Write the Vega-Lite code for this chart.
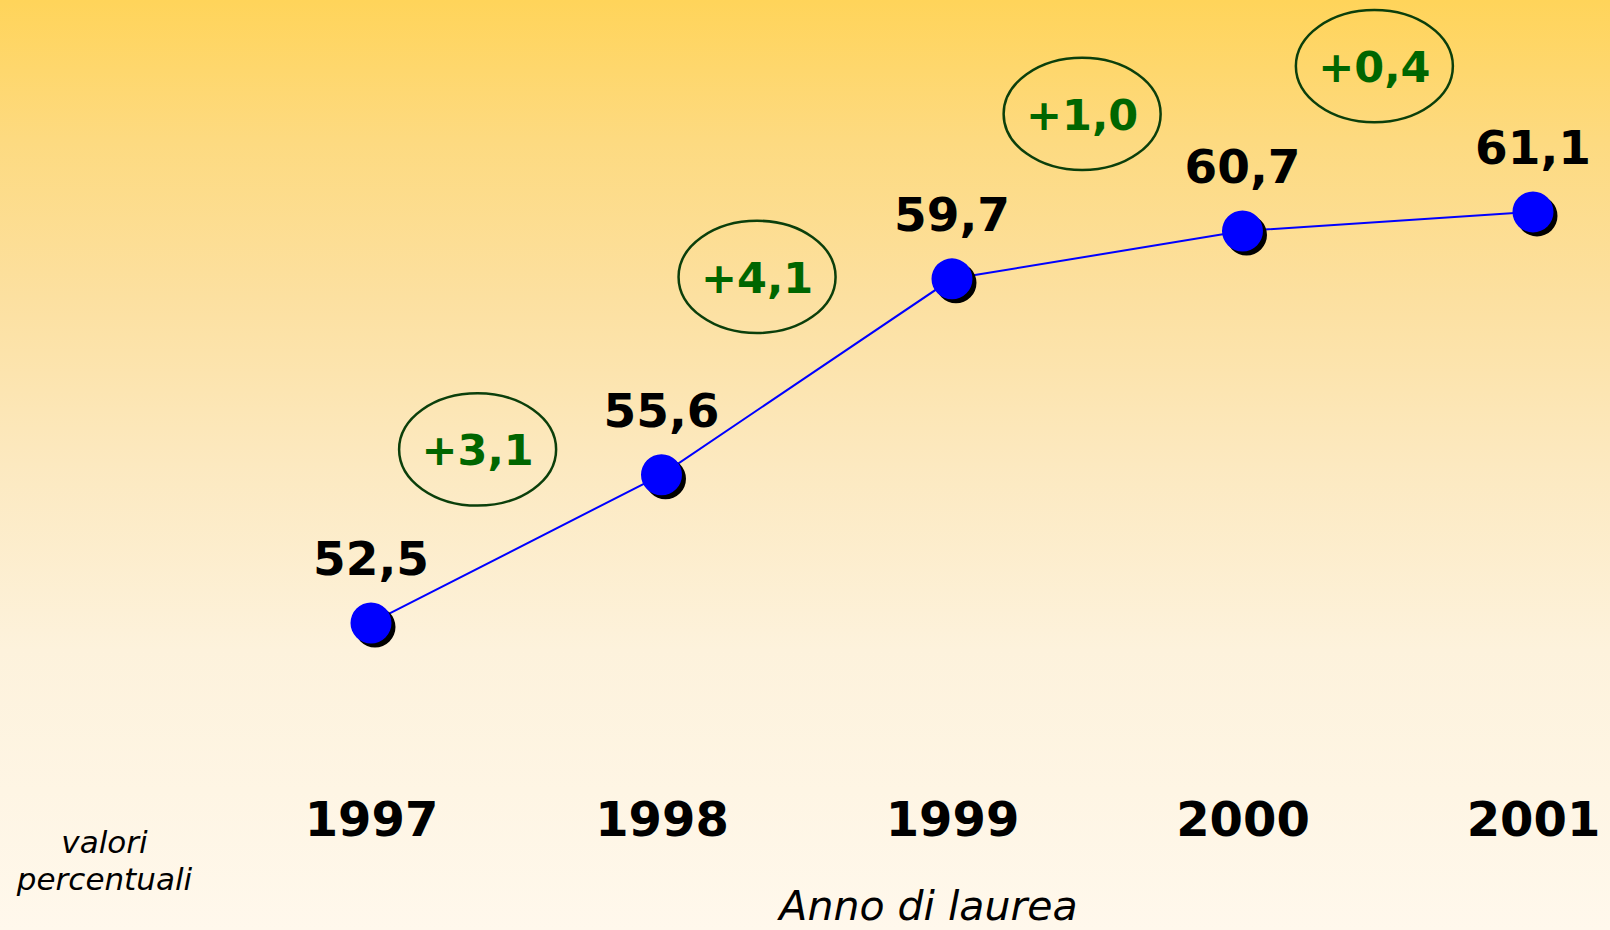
{
  "$schema": "https://vega.github.io/schema/vega-lite/v6.json",
  "width": 1610,
  "height": 930,
  "padding": 0,
  "autosize": {"type": "none"},
  "background": "#FFF8EC",
  "config": {
    "view": {"stroke": null},
    "locale": {"number": {"decimal": ",", "thousands": ".", "grouping": [3], "currency": ["€", ""]}}
  },
  "datasets": {
    "serie": [
      {"anno": 1997, "valore": 52.5},
      {"anno": 1998, "valore": 55.6},
      {"anno": 1999, "valore": 59.7},
      {"anno": 2000, "valore": 60.7},
      {"anno": 2001, "valore": 61.1}
    ],
    "variazioni": [
      {"delta": 3.1, "anno_rif": 1997.367, "livello_rif": 56.13},
      {"delta": 4.1, "anno_rif": 1998.329, "livello_rif": 59.74},
      {"delta": 1.0, "anno_rif": 1999.448, "livello_rif": 63.15},
      {"delta": 0.4, "anno_rif": 2000.454, "livello_rif": 64.15}
    ]
  },
  "layer": [
    {
      "data": {"values": [{}]},
      "mark": {
        "type": "rect",
        "color": {
          "gradient": "linear",
          "x1": 0, "y1": 0, "x2": 0, "y2": 1,
          "stops": [
            {"offset": 0, "color": "#FFD45A"},
            {"offset": 0.15, "color": "#FDDA80"},
            {"offset": 0.32, "color": "#FCE0A0"},
            {"offset": 0.5, "color": "#FCE9C0"},
            {"offset": 0.7, "color": "#FDF2DC"},
            {"offset": 1, "color": "#FFF8EC"}
          ]
        }
      },
      "encoding": {}
    },
    {
      "data": {"name": "serie"},
      "mark": {"type": "line", "color": "#0000FF", "strokeWidth": 2},
      "encoding": {
        "x": {
          "field": "anno", "type": "quantitative",
          "scale": {"domain": [1995.7229, 2001.2651], "nice": false, "zero": false},
          "axis": {
            "orient": "bottom", "offset": -140, "zindex": 1, "domain": false, "ticks": false, "tickSize": 0, "grid": false,
            "values": [1997, 1998, 1999, 2000, 2001], "format": "d",
            "labelPadding": 45, "labelBaseline": "alphabetic", "labelFlush": false, "labelOverlap": false,
            "labelFont": "DejaVu Sans", "labelFontSize": 48, "labelFontWeight": "bold", "labelColor": "#000000",
            "title": "Anno di laurea", "titleFont": "DejaVu Sans", "titleFontSize": 41,
            "titleFontStyle": "italic", "titleFontWeight": "normal", "titleColor": "#000000",
            "titleX": 928, "titleY": 129, "titleAlign": "center", "titleBaseline": "alphabetic", "titleAnchor": null
          }
        },
        "y": {
          "field": "valore", "type": "quantitative",
          "scale": {"domain": [46.077, 65.533], "nice": false, "zero": false},
          "axis": {
            "orient": "left", "zindex": 1, "domain": false, "ticks": false, "labels": false, "grid": false,
            "title": ["valori", "percentuali"], "titleAngle": 0,
            "titleFont": "DejaVu Sans", "titleFontSize": 31, "titleFontStyle": "italic", "titleFontWeight": "normal",
            "titleColor": "#000000", "titleLineHeight": 37,
            "titleX": 104, "titleY": 852, "titleAlign": "center", "titleBaseline": "alphabetic", "titleAnchor": null
          }
        }
      }
    },
    {
      "data": {"name": "serie"},
      "mark": {"type": "point", "shape": "circle", "filled": true, "color": "#000000", "opacity": 1, "size": 1680},
      "encoding": {
        "x": {"field": "anno", "type": "quantitative"},
        "y": {"field": "valore", "type": "quantitative"},
        "xOffset": {"value": 4},
        "yOffset": {"value": 4}
      }
    },
    {
      "data": {"name": "serie"},
      "mark": {"type": "point", "shape": "circle", "filled": true, "color": "#0000FF", "opacity": 1, "size": 1680},
      "encoding": {
        "x": {"field": "anno", "type": "quantitative"},
        "y": {"field": "valore", "type": "quantitative"}
      }
    },
    {
      "data": {"name": "serie"},
      "mark": {
        "type": "text", "font": "DejaVu Sans", "fontSize": 47, "fontWeight": "bold", "color": "#000000",
        "align": "center", "baseline": "alphabetic", "dy": -48
      },
      "encoding": {
        "x": {"field": "anno", "type": "quantitative"},
        "y": {"field": "valore", "type": "quantitative"},
        "text": {"field": "valore", "type": "quantitative", "format": ".1f"}
      }
    },
    {
      "data": {"name": "variazioni"},
      "mark": {
        "type": "point",
        "shape": "M-1,0A1,0.715 0 1,1 1,0A1,0.715 0 1,1 -1,0Z",
        "filled": false, "fill": null, "stroke": "#0B3F0B", "strokeWidth": 2.5, "opacity": 1,
        "size": 24650
      },
      "encoding": {
        "x": {"field": "anno_rif", "type": "quantitative"},
        "y": {"field": "livello_rif", "type": "quantitative"}
      }
    },
    {
      "data": {"name": "variazioni"},
      "mark": {
        "type": "text", "font": "DejaVu Sans", "fontSize": 43, "fontWeight": "bold", "color": "#006600",
        "align": "center", "baseline": "alphabetic", "dy": 16
      },
      "encoding": {
        "x": {"field": "anno_rif", "type": "quantitative"},
        "y": {"field": "livello_rif", "type": "quantitative"},
        "text": {"field": "delta", "type": "quantitative", "format": "+.1f"}
      }
    }
  ]
}
